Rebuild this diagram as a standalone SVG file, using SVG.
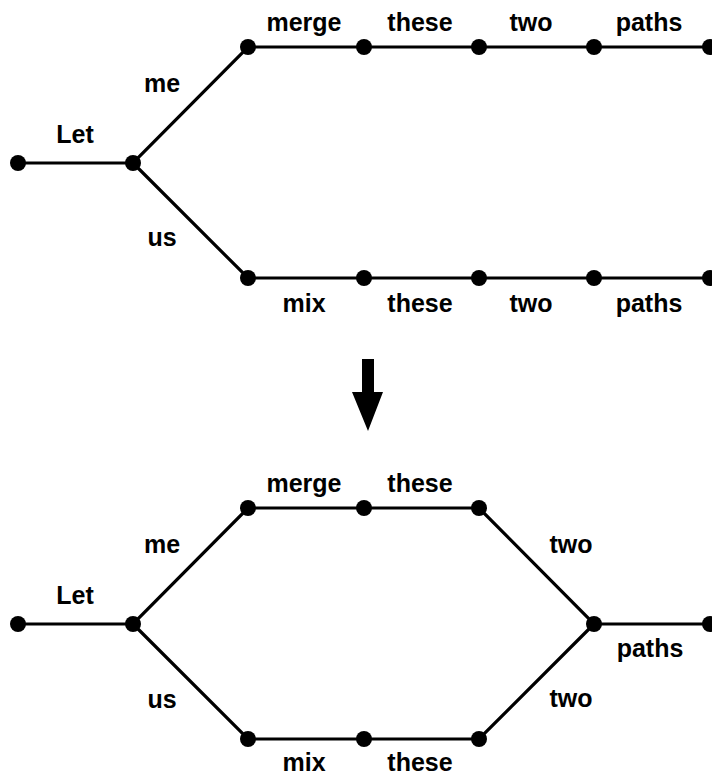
<svg xmlns="http://www.w3.org/2000/svg" width="712" height="775" viewBox="0 0 712 775">
<style>
.e{stroke:#000;stroke-width:3.2;fill:none;stroke-linecap:round}
.n{fill:#000}
.t{font-family:"Liberation Sans",Arial,sans-serif;font-weight:bold;font-size:25px;fill:#000;text-anchor:middle}
</style>
<rect width="712" height="775" fill="#fff"/>
<g id="connectors">
<path class="e" d="M18,163H133L248,47H710M133,163L248,278H710"/>
<path class="e" d="M18,624H133L248,508H479L594,624H710M133,624L248,739H479L594,624"/>
</g>
<g id="top-nodes">
<g id="t1"><circle class="n" cx="18" cy="163" r="8"/></g>
<g id="t2"><circle class="n" cx="133" cy="163" r="8"/></g>
<g id="t3"><circle class="n" cx="248" cy="47" r="8"/></g>
<g id="t4"><circle class="n" cx="364" cy="47" r="8"/></g>
<g id="t5"><circle class="n" cx="479" cy="47" r="8"/></g>
<g id="t6"><circle class="n" cx="594" cy="47" r="8"/></g>
<g id="t7"><circle class="n" cx="710" cy="47" r="8"/></g>
<g id="t8"><circle class="n" cx="248" cy="278" r="8"/></g>
<g id="t9"><circle class="n" cx="364" cy="278" r="8"/></g>
<g id="t10"><circle class="n" cx="479" cy="278" r="8"/></g>
<g id="t11"><circle class="n" cx="594" cy="278" r="8"/></g>
<g id="t12"><circle class="n" cx="710" cy="278" r="8"/></g>
</g>
<g id="bottom-nodes">
<g id="b1"><circle class="n" cx="18" cy="624" r="8"/></g>
<g id="b2"><circle class="n" cx="133" cy="624" r="8"/></g>
<g id="b3"><circle class="n" cx="248" cy="508" r="8"/></g>
<g id="b4"><circle class="n" cx="364" cy="508" r="8"/></g>
<g id="b5"><circle class="n" cx="479" cy="508" r="8"/></g>
<g id="b6"><circle class="n" cx="248" cy="739" r="8"/></g>
<g id="b7"><circle class="n" cx="364" cy="739" r="8"/></g>
<g id="b8"><circle class="n" cx="479" cy="739" r="8"/></g>
<g id="b9"><circle class="n" cx="594" cy="624" r="8"/></g>
<g id="b10"><circle class="n" cx="710" cy="624" r="8"/></g>
</g>
<g id="labels">
<text class="t" x="75" y="143">Let</text>
<text class="t" x="162" y="92">me</text>
<text class="t" x="162" y="246">us</text>
<text class="t" x="304" y="31">merge</text>
<text class="t" x="420" y="31">these</text>
<text class="t" x="531" y="31">two</text>
<text class="t" x="649" y="31">paths</text>
<text class="t" x="304" y="312">mix</text>
<text class="t" x="420" y="312">these</text>
<text class="t" x="531" y="312">two</text>
<text class="t" x="649" y="312">paths</text>
<text class="t" x="75" y="604">Let</text>
<text class="t" x="162" y="553">me</text>
<text class="t" x="162" y="708">us</text>
<text class="t" x="304" y="492">merge</text>
<text class="t" x="420" y="492">these</text>
<text class="t" x="304" y="771">mix</text>
<text class="t" x="420" y="771">these</text>
<text class="t" x="571" y="553">two</text>
<text class="t" x="571" y="707">two</text>
<text class="t" x="650" y="657">paths</text>
</g>
<g id="arrow">
<path class="n" d="M362,359H374V392H383L368,431L352,392H362Z"/>
</g>
</svg>
